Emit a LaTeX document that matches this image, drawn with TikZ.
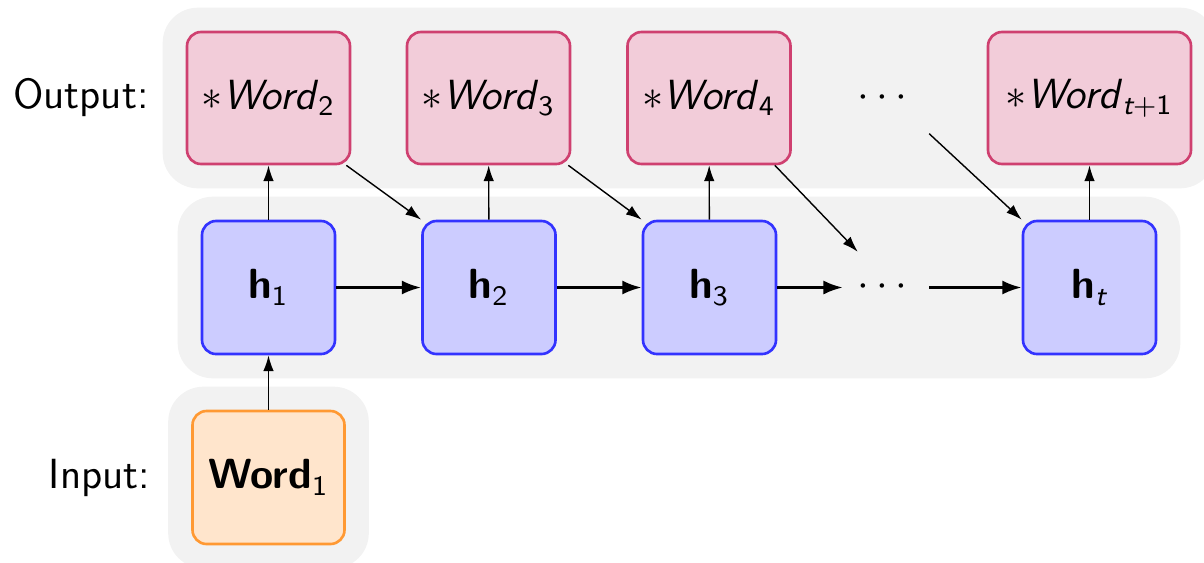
\documentclass[tikz,border=0pt]{standalone}
\usepackage{amsmath}
\usetikzlibrary{arrows.meta, positioning, fit, backgrounds}

\begin{document}
\begin{tikzpicture}[
  font=\sffamily\large,
  cell/.style={draw=#1!80, fill=#1!20, rounded corners=4pt, line width=0.75pt, minimum width=1.33cm, minimum height=1.33cm, inner sep=2pt},
  outcell/.style={draw=purple!75, fill=purple!20, rounded corners=4pt, line width=0.75pt, minimum width=1.63cm, minimum height=1.32cm, inner sep=2pt},
  group/.style={fill=gray!10, rounded corners=10pt, inner sep=0.23cm},
  dotsnode/.style={minimum width=0.85cm, minimum height=0.7cm, inner sep=0pt},
  link/.style={-{Latex[length=4.5pt, width=3pt]}},
  flow/.style={-{Latex[length=5.5pt, width=4pt]}, thick},
]
  \useasboundingbox (0,0) rectangle (12.04,5.62);

  % outputs
  \node[outcell] (w2) at (2.685, 4.64) {$\ast$\textit{Word}$_{\mathsf{2}}$};
  \node[outcell] (w3) at (4.885, 4.64) {$\ast$\textit{Word}$_{\mathsf{3}}$};
  \node[outcell] (w4) at (7.09, 4.64) {$\ast$\textit{Word}$_{\mathsf{4}}$};
  \node[dotsnode] (dt) at (8.86, 4.64) {$\cdots$};
  \node[outcell, minimum width=2.03cm] (wt1) at (10.895, 4.64) {$\ast$\textit{Word}$_{\text{\itshape t}+\mathsf{1}}$};

  % hidden states
  \node[cell=blue] (h1) at (2.685, 2.745) {\textbf{h}$_{\mathsf{1}}$};
  \node[cell=blue] (h2) at (4.89, 2.745) {\textbf{h}$_{\mathsf{2}}$};
  \node[cell=blue] (h3) at (7.095, 2.745) {\textbf{h}$_{\mathsf{3}}$};
  \node[dotsnode] (dm) at (8.86, 2.745) {$\cdots$};
  \node[cell=blue] (ht) at (10.895, 2.745) {\textbf{h}$_{\text{\itshape t}}$};

  % input
  \node[cell=orange, minimum width=1.52cm] (word1) at (2.685, 0.845) {\textbf{Word}$_{\mathsf{1}}$};

  \begin{scope}[on background layer]
    \node[group, fit=(w2)(wt1)] (outrow) {};
    \node[group, fit=(h1)(ht)] (hrow) {};
    \node[group, fit=(word1)] (inrow) {};
  \end{scope}

  \node[left=0.01cm of outrow.west] (outlabel) {Output:};
  \node[left=0.05cm of inrow.west] (inlabel) {Input:};

  \draw[link] (word1) -- (h1);
  \draw[link] (h1) -- (w2);
  \draw[link] (h2) -- (w3);
  \draw[link] (h3) -- (w4);
  \draw[link] (ht) -- (wt1);

  \draw[flow] (h1) -- (h2);
  \draw[flow] (h2) -- (h3);
  \draw[flow] (h3) -- (dm);
  \draw[flow] (dm) -- (ht);

  \draw[link] ([xshift=-0.05cm]w2.south east) -- (h2.north west);
  \draw[link] ([xshift=-0.03cm]w3.south east) -- (h3.north west);
  \draw[link] ([xshift=-0.17cm]w4.south east) -- ([xshift=0.15cm]dm.north west);
  \draw[link] (dt.south east) -- (ht.north west);
\end{tikzpicture}
\end{document}
